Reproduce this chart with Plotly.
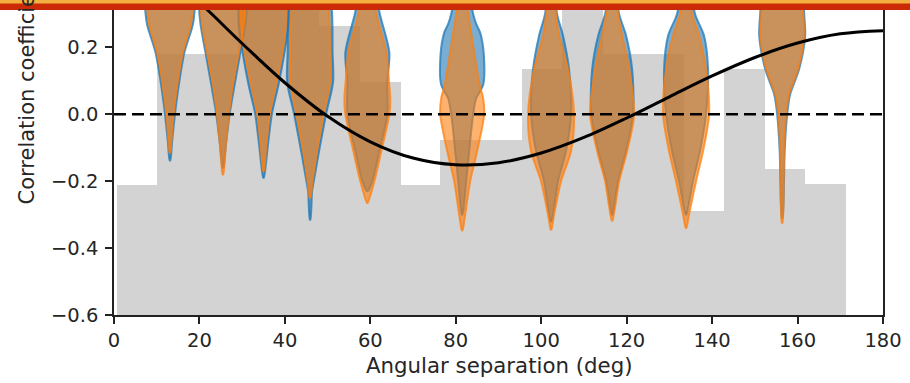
import plotly.graph_objects as go

# ---------------- data ----------------
BAR_CENTERS = [5.4, 14.9, 24.4, 33.9, 43.3, 52.8, 62.3, 71.8, 81.2, 90.7,
               100.2, 109.6, 119.1, 128.6, 138.1, 147.5, 157.0, 166.5]
BAR_TOPS = [-0.21, 0.18, 0.18, 0.36, 0.36, 0.265, 0.097, -0.21, -0.077, -0.077,
            0.136, 0.36, 0.18, 0.18, -0.29, 0.136, -0.165, -0.207]
BAR_BASE = -0.6

HD_ANGLE = [0, 10, 20, 30, 40, 50, 60, 70, 80, 90, 100, 110, 120, 130, 140, 150, 160, 170, 180]
HD_CORR = [0.5, 0.4425, 0.3341, 0.2116, 0.0942, -0.0061, -0.0824, -0.1309, -0.1511, -0.1449,
           -0.1159, -0.0693, -0.0111, 0.0522, 0.1145, 0.1697, 0.2130, 0.2406, 0.25]

VIOLIN_POS = [13.1, 25.5, 35.0, 45.9, 59.3, 81.5, 102.3, 116.6, 133.9, 156.4]

BLUE_LEVELS = [
    [-0.138, -0.08, 0.0, 0.09, 0.185, 0.27, 0.33, 0.45, 0.55, 0.65],
    [-0.16, -0.09, 0.0, 0.088, 0.185, 0.27, 0.33, 0.45, 0.55, 0.65],
    [-0.19, -0.09, 0.0, 0.088, 0.185, 0.27, 0.33, 0.45, 0.55, 0.65],
    [-0.315, -0.23, -0.2, -0.11, 0.0, 0.097, 0.185, 0.3, 0.4, 0.5, 0.6],
    [-0.23, -0.2, -0.11, 0.0, 0.097, 0.185, 0.3, 0.4, 0.5],
    [-0.3, -0.2, -0.11, 0.0, 0.047, 0.088, 0.176, 0.244, 0.27, 0.3, 0.4, 0.5],
    [-0.32, -0.3, -0.2, -0.11, 0.0, 0.135, 0.235, 0.3, 0.4, 0.5],
    [-0.3, -0.2, -0.11, 0.0, 0.135, 0.235, 0.3, 0.4, 0.5],
    [-0.3, -0.2, -0.11, 0.0, 0.135, 0.235, 0.3, 0.4, 0.5],
    [-0.31, -0.2, -0.11, 0.0, 0.06, 0.135, 0.235, 0.3, 0.4, 0.5, 0.6],
]
BLUE_DENSITY = [
    [0.3, 2.2, 5, 9, 14.5, 23, 25, 24, 15, 0],
    [0.3, 3, 6.7, 11.7, 17.5, 22.5, 24, 22, 14, 0],
    [0.3, 4.5, 8.3, 15, 21, 25, 25, 22, 13, 0],
    [0.3, 2, 3.7, 9, 16, 23, 22.5, 22, 18, 10, 0],
    [0.3, 5, 12, 20, 20, 22, 12.5, 6, 0],
    [0.3, 4, 7, 11, 14, 21, 21.7, 18, 14, 11, 5, 0],
    [0.3, 2, 7, 15, 20, 18, 12, 6, 3, 0],
    [0.3, 6, 14, 21, 20, 14, 7, 3, 0],
    [0.3, 7, 14, 20, 22, 18, 9, 4, 0],
    [0.3, 1.8, 2.5, 5, 8, 17, 23, 22, 20, 12, 0],
]
ORANGE_LEVELS = [
    [-0.115, -0.08, 0.0, 0.09, 0.185, 0.27, 0.33, 0.45, 0.55, 0.65],
    [-0.18, -0.09, 0.0, 0.088, 0.185, 0.27, 0.33, 0.45, 0.55, 0.65],
    [-0.17, -0.09, 0.0, 0.088, 0.185, 0.27, 0.33, 0.45, 0.55, 0.65],
    [-0.25, -0.2, -0.11, 0.0, 0.097, 0.185, 0.3, 0.4, 0.5, 0.6],
    [-0.265, -0.2, -0.11, 0.0, 0.04, 0.097, 0.185, 0.3, 0.4, 0.5],
    [-0.347, -0.3, -0.2, -0.11, 0.0, 0.047, 0.088, 0.176, 0.244, 0.3, 0.4, 0.5],
    [-0.345, -0.3, -0.2, -0.11, 0.0, 0.135, 0.235, 0.3, 0.4, 0.5],
    [-0.318, -0.2, -0.11, 0.0, 0.135, 0.235, 0.3, 0.4, 0.5],
    [-0.34, -0.3, -0.2, -0.11, 0.0, 0.135, 0.235, 0.3, 0.4, 0.5],
    [-0.325, -0.2, -0.11, 0.0, 0.06, 0.135, 0.235, 0.3, 0.4, 0.5, 0.6],
]
ORANGE_DENSITY = [
    [0.3, 1.5, 3.7, 7.5, 13, 21, 23, 22, 14, 0],
    [0.3, 3, 6, 10, 16, 21, 22.5, 21, 13, 0],
    [0.3, 3, 6.3, 12.5, 19, 22.5, 23, 21, 12, 0],
    [0.3, 2.5, 7, 13.7, 20, 20, 19, 16, 9, 0],
    [0.3, 7, 14, 22, 23, 21.7, 19, 9, 4, 0],
    [0.3, 3, 8, 15, 22, 21, 17.5, 12.5, 9, 6, 3, 0],
    [0.3, 3, 10, 20, 23, 17, 8, 5, 2.5, 0],
    [0.3, 7, 15, 22, 17, 10, 6, 3, 0],
    [0.3, 3, 10, 17, 23, 20, 13, 6, 3, 0],
    [0.3, 1.5, 2, 4, 7, 16, 22, 21, 19, 11, 0],
]

X_TICKS = [0, 20, 40, 60, 80, 100, 120, 140, 160, 180]
Y_TICKS = [-0.6, -0.4, -0.2, 0.0, 0.2, 0.4]

# ---------------- styles ----------------
BAR_WIDTH = 9.56
VIOLIN_SCALE = 180.0 / 769.0   # degrees per density unit
FONT = "DejaVu Sans"
TXT = "#262626"

fig = go.Figure()

fig.add_trace(go.Bar(
    x=BAR_CENTERS, y=[t - BAR_BASE for t in BAR_TOPS], base=BAR_BASE,
    width=BAR_WIDTH, marker=dict(color="#d3d3d3", line=dict(width=0)),
    showlegend=False, hoverinfo="skip"))


def violin_shape(pos, levels, dens):
    xr = [pos + d * VIOLIN_SCALE for d in dens]
    xl = [pos - d * VIOLIN_SCALE for d in dens]
    xs = xr + xl[::-1] + [xr[0]]
    ys = list(levels) + list(levels)[::-1] + [levels[0]]
    return xs, ys


for pos, lv, dn in zip(VIOLIN_POS, BLUE_LEVELS, BLUE_DENSITY):
    xs, ys = violin_shape(pos, lv, dn)
    fig.add_trace(go.Scatter(
        x=xs, y=ys, mode="lines", fill="toself",
        fillcolor="rgba(31,119,180,0.6)",
        line=dict(color="rgba(31,119,180,0.75)", width=2, shape="spline", smoothing=0.8),
        showlegend=False, hoverinfo="skip"))

for pos, lv, dn in zip(VIOLIN_POS, ORANGE_LEVELS, ORANGE_DENSITY):
    xs, ys = violin_shape(pos, lv, dn)
    fig.add_trace(go.Scatter(
        x=xs, y=ys, mode="lines", fill="toself",
        fillcolor="rgba(255,127,14,0.6)",
        line=dict(color="rgba(255,127,14,0.75)", width=2, shape="spline", smoothing=0.8),
        showlegend=False, hoverinfo="skip"))

fig.add_trace(go.Scatter(
    x=[0, 180], y=[0, 0], mode="lines",
    line=dict(color="black", width=2.5, dash="12px,6px"),
    showlegend=False, hoverinfo="skip"))

fig.add_trace(go.Scatter(
    x=HD_ANGLE, y=HD_CORR, mode="lines",
    line=dict(color="black", width=3, shape="spline", smoothing=1.0),
    showlegend=False, hoverinfo="skip"))

axis_common = dict(
    showline=True, linecolor="#222", linewidth=1.5, mirror=True,
    ticks="outside", ticklen=7, tickwidth=1.5, tickcolor="#222",
    showgrid=False, zeroline=False,
    tickfont=dict(family=FONT, size=19.5, color=TXT),
)

fig.update_layout(
    width=910, height=383,
    margin=dict(l=114, r=27, t=0, b=68),
    paper_bgcolor="white", plot_bgcolor="white",
    bargap=0, barmode="overlay",
    xaxis=dict(range=[0, 180], tickvals=X_TICKS, **axis_common),
    yaxis=dict(range=[-0.6, 0.3356], tickvals=Y_TICKS, tickformat=".1f",
               ticklabelstandoff=3, **axis_common),
    shapes=[
        dict(type="rect", xref="paper", yref="paper",
             x0=-0.16, x1=1.05, y0=1 - 8 / 315, y1=1.01,
             fillcolor="#cc2a06", line=dict(width=0), layer="above"),
        dict(type="rect", xref="paper", yref="paper",
             x0=-0.16, x1=1.05, y0=1 - 1.5 / 315, y1=1.01,
             fillcolor="#f2b040", line=dict(width=0), layer="above"),
    ],
    annotations=[
        dict(text="Angular separation (deg)", xref="paper", yref="paper",
             x=0.5, y=(315 - 366) / 315, xanchor="center", yanchor="middle",
             showarrow=False, font=dict(family=FONT, size=21.3, color=TXT)),
        dict(text="Correlation coefficient", xref="paper", yref="paper",
             x=(27 - 114) / 769, y=(315 - 87) / 315, xanchor="center", yanchor="middle",
             textangle=-90, showarrow=False, font=dict(family=FONT, size=21, color=TXT)),
    ],
)

fig.write_html("out.html")
